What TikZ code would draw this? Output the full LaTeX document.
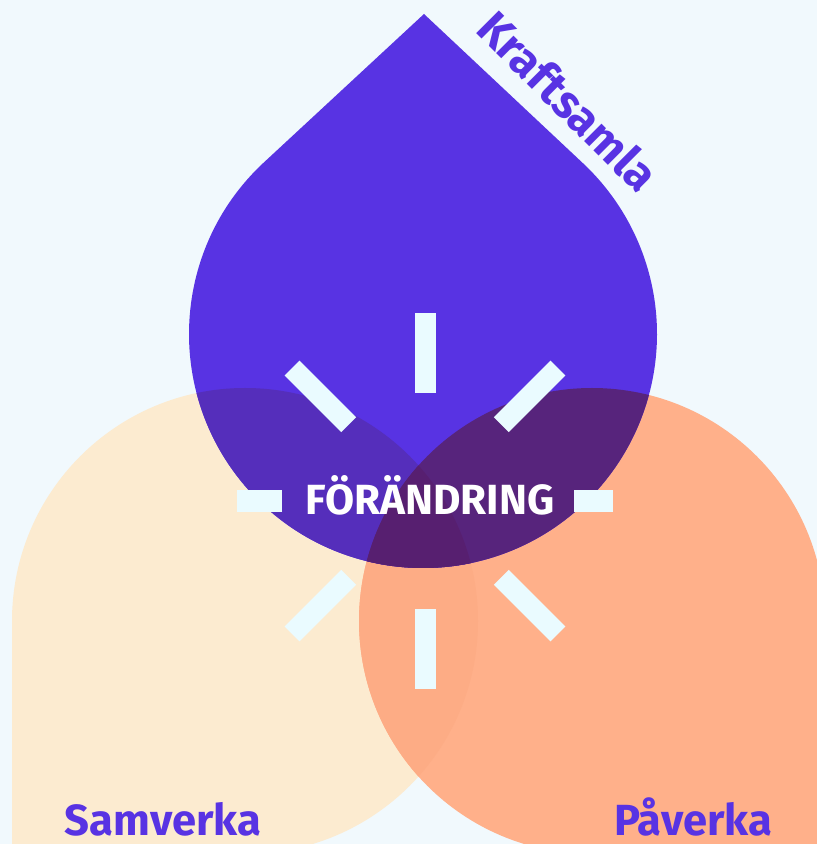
\documentclass[tikz,border=0pt]{standalone}
\usepackage{fontspec}
\setmainfont{Fira Sans}
\usepackage{tikz}
\usetikzlibrary{positioning,calc}

\definecolor{bgblue}{HTML}{F1F9FD}
\definecolor{kraftpurple}{HTML}{5833E3}
\definecolor{sambeige}{HTML}{FCEBD0}
\definecolor{paorange}{HTML}{FFB08A}
\definecolor{purplebeige}{HTML}{552EBB}
\definecolor{purpleorange}{HTML}{57247C}
\definecolor{centerdark}{HTML}{571F70}
\definecolor{beigeorange}{HTML}{FDAC85}
\definecolor{raywhite}{HTML}{EAFBFF}

% the three drops
\newcommand{\kraftdrop}{(424,830) -- ([shift={(133:234)}]423,510) arc[start angle=133,end angle=407,radius=234] -- cycle}
\newcommand{\samdrop}{(12,223) -- (12,-10) -- (245,-10) arc[start angle=270,end angle=540,radius=233] -- cycle}
\newcommand{\padrop}{(592,-10) -- (825,-10) -- (825,223) arc[start angle=0,end angle=270,radius=233] -- cycle}

\begin{document}
\begin{tikzpicture}[x=0.025cm,y=0.025cm,
    ray/.style={draw=raywhite, line width=0.525cm},
    dropname/.style={text=kraftpurple, font=\bfseries\fontsize{31}{31}\selectfont, anchor=base, inner sep=0pt}]
    \useasboundingbox (0,0) rectangle (817,844);
    \clip (0,0) rectangle (817,844);
    \fill[bgblue] (0,0) rectangle (817,844);

    % Samverka and Paverka
    \fill[sambeige] \samdrop;
    \fill[paorange] \padrop;
    \begin{scope}
        \clip \samdrop;
        \fill[beigeorange] \padrop;
    \end{scope}

    % Kraftsamla
    \fill[kraftpurple] \kraftdrop;
    \begin{scope}
        \clip \kraftdrop;
        \fill[purplebeige] \samdrop;
        \fill[purpleorange] \padrop;
        \clip \samdrop;
        \fill[centerdark] \padrop;
    \end{scope}

    % rays
    \foreach \a in {45,90,135,225,270,315}
        \draw[ray] ([shift={(\a:108)}]425,343) -- ([shift={(\a:188)}]425,343);
    \foreach \a/\r in {0/149,180/143}
        \draw[ray] ([shift={(\a:\r)}]425,343) -- ([shift={(\a:188)}]425,343);

    % labels
    \node[text=white, font=\bfseries\fontsize{30}{30}\selectfont, anchor=base, inner sep=0pt] (change) at (430,329) {FÖRÄNDRING};
    \node[dropname, font=\bfseries\fontsize{33}{33}\selectfont, rotate=-45] (kraft) at (556,731) {Kraftsamla};
    \node[dropname] (sam) at (163,9) {Samverka};
    \node[dropname] (pa) at (693,9) {Påverka};
\end{tikzpicture}
\end{document}
